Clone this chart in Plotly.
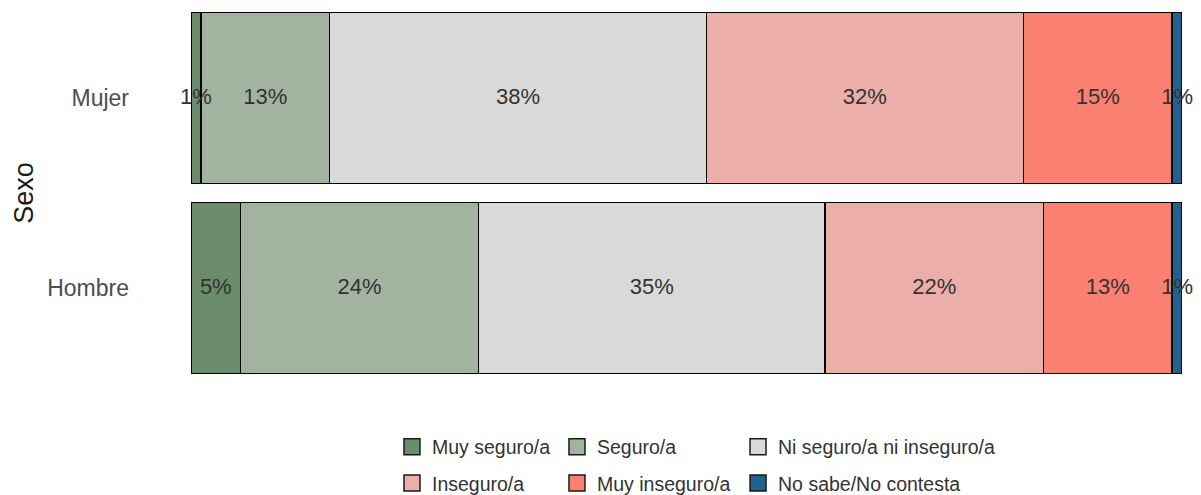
import plotly.graph_objects as go

sexo = ["Mujer", "Hombre"]
categorias = ["Muy seguro/a", "Seguro/a", "Ni seguro/a ni inseguro/a",
              "Inseguro/a", "Muy inseguro/a", "No sabe/No contesta"]
mujer = [1, 13, 38, 32, 15, 1]
hombre = [5, 24, 35, 22, 13, 1]

colores = ["#6a8c6a", "#a2b4a0", "#d9d9d9", "#ebaea8", "#fa8072", "#21638f"]
# legend columns like the ggplot guide (3 columns x 2 rows)
leyendas = ["legend", "legend2", "legend3", "legend", "legend2", "legend3"]

FONT = "Liberation Sans, Arial, sans-serif"

fig = go.Figure()

for k, cat in enumerate(categorias):
    fig.add_trace(
        go.Bar(
            name=cat,
            y=sexo,
            x=[mujer[k], hombre[k]],
            orientation="h",
            marker={"color": colores[k], "line": {"color": "black", "width": 1.5}},
            showlegend=False,
            legendgroup=cat,
            hoverinfo="x+name",
        )
    )

# legend keys: bigger squares than the default bar swatch
for k, cat in enumerate(categorias):
    fig.add_trace(
        go.Scatter(
            name=cat,
            x=[None],
            y=[None],
            mode="markers",
            marker={"symbol": "square", "size": 16, "color": colores[k],
                    "line": {"color": "#1a1a1a", "width": 1.5}},
            legend=leyendas[k],
            legendgroup=cat,
        )
    )

# labels on top of every segment (centre of each piece)
for serie, nombre in [(mujer, "Mujer"), (hombre, "Hombre")]:
    acum = 0
    xs, txt = [], []
    for v in serie:
        xs.append(acum + v / 2)
        txt.append(f"{v}%")
        acum += v
    fig.add_trace(
        go.Scatter(
            x=xs,
            y=[nombre] * len(xs),
            mode="text",
            text=txt,
            textposition="middle center",
            textfont={"size": 22, "color": "#333333", "family": FONT},
            cliponaxis=False,
            showlegend=False,
            hoverinfo="skip",
        )
    )

leg = dict(
    orientation="v",
    yanchor="top",
    xanchor="left",
    y=-0.117,
    font={"size": 19.5, "color": "#333333", "family": FONT},
    bgcolor="rgba(0,0,0,0)",
    tracegroupgap=8,
    itemclick=False,
    itemdoubleclick=False,
)

fig.update_layout(
    barmode="stack",
    bargap=0.1,
    width=1201,
    height=495,
    margin={"l": 191, "r": 19, "t": 3, "b": 112, "autoexpand": False},
    plot_bgcolor="white",
    paper_bgcolor="white",
    font={"family": FONT, "color": "#333333"},
    showlegend=True,
    legend={**leg, "x": 0.2028},
    legend2={**leg, "x": 0.3693},
    legend3={**leg, "x": 0.552},
)

fig.update_xaxes(range=[0, 100], visible=False, fixedrange=True)
fig.update_yaxes(
    categoryorder="array",
    categoryarray=["Hombre", "Mujer"],
    range=[-0.5, 1.5],
    showgrid=False,
    zeroline=False,
    showline=False,
    ticks="",
    ticklabelstandoff=61,
    tickfont={"size": 23, "color": "#4d4d4d", "family": FONT},
    title={"text": "Sexo", "font": {"size": 27, "color": "#1a1a1a", "family": FONT}, "standoff": 5},
    automargin=False,
    fixedrange=True,
)

fig.write_html("out.html", config={"displayModeBar": False},
               post_script="document.body.style.margin='0px';")
